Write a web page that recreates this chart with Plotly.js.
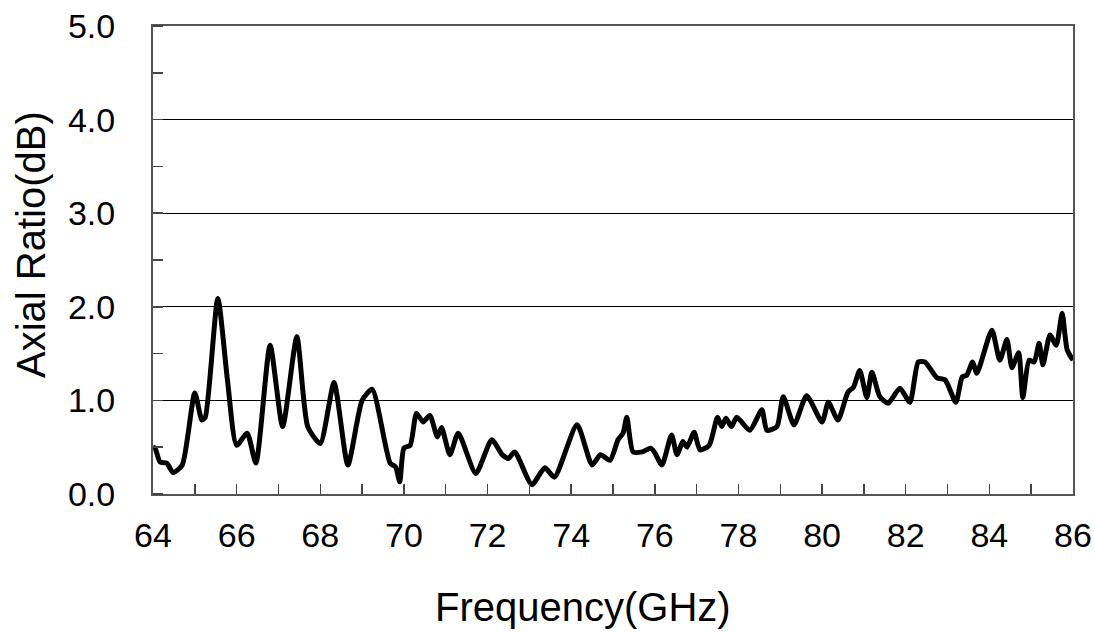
<!DOCTYPE html>
<html>
<head>
<meta charset="utf-8">
<script src="https://cdn.plot.ly/plotly-3.0.1.min.js"></script>
<style>html,body{margin:0;padding:0;background:#fff;}#chart{width:1094px;height:632px;}</style>
</head>
<body>
<div id="chart"></div>
<script>
const frequencyGHz = [64.0,64.05,64.17,64.33,64.48,64.7,65.0,65.17,65.25,65.55,65.78,66.0,66.25,66.46,66.8,67.1,67.44,67.7,68.0,68.33,68.66,69.0,69.24,69.67,69.8,69.9,70.0,70.15,70.3,70.46,70.62,70.8,70.9,71.1,71.3,71.72,72.1,72.35,72.5,72.65,73.06,73.37,73.6,74.14,74.5,74.7,74.93,75.12,75.24,75.33,75.48,75.7,75.9,76.0,76.17,76.4,76.53,76.67,76.77,76.94,77.08,77.3,77.5,77.6,77.7,77.83,77.96,78.27,78.56,78.68,78.92,79.07,79.33,79.63,80.0,80.15,80.38,80.62,80.75,80.9,81.07,81.19,81.38,81.58,81.86,82.1,82.3,82.46,82.75,82.94,83.2,83.35,83.46,83.6,83.7,84.06,84.25,84.42,84.54,84.7,84.8,84.95,85.07,85.19,85.28,85.45,85.6,85.74,85.86,86.0];
const axialRatioDB = [0.5,0.49,0.34,0.33,0.23,0.31,1.08,0.79,0.82,2.09,1.22,0.52,0.65,0.33,1.59,0.72,1.68,0.72,0.54,1.19,0.31,1.0,1.12,0.33,0.29,0.13,0.49,0.52,0.86,0.77,0.84,0.61,0.71,0.42,0.65,0.22,0.58,0.42,0.38,0.45,0.1,0.28,0.18,0.74,0.31,0.42,0.36,0.58,0.65,0.82,0.45,0.45,0.49,0.44,0.31,0.63,0.42,0.56,0.5,0.66,0.47,0.52,0.82,0.72,0.81,0.72,0.82,0.68,0.9,0.68,0.72,1.04,0.74,1.05,0.77,0.98,0.79,1.09,1.14,1.32,1.03,1.3,1.04,0.97,1.13,0.98,1.41,1.41,1.24,1.22,0.98,1.25,1.27,1.41,1.29,1.75,1.43,1.65,1.35,1.51,1.03,1.43,1.41,1.61,1.38,1.7,1.59,1.93,1.54,1.43];
const xTickValues = [64,66,68,70,72,74,76,78,80,82,84,86];
const yTickValues = [0,1,2,3,4,5];
const yTickLabels = ["0.0","1.0","2.0","3.0","4.0","5.0"];
const xTitle = "Frequency(GHz)";
const yTitle = "Axial Ratio(dB)";

const font = "Liberation Sans, Arial, sans-serif";
const trace = {
  x: frequencyGHz, y: axialRatioDB, type: "scatter", mode: "lines",
  line: {color: "#000", width: 5, shape: "spline", smoothing: 0.6},
  hoverinfo: "x+y"
};
const layout = {
  width: 1094, height: 632,
  margin: {l: 153, r: 21, t: 26, b: 138},
  paper_bgcolor: "#fff", plot_bgcolor: "#fff",
  showlegend: false,
  font: {family: font, color: "#000", size: 34},
  xaxis: {
    range: [64, 86], tickvals: xTickValues, ticks: "inside", ticklen: 10, tickcolor: "#444", tickwidth: 1.5,
    minor: {dtick: 1, ticks: "inside", ticklen: 10, tickcolor: "#444", tickwidth: 1.5, showgrid: false},
    showline: true, linecolor: "#555", linewidth: 2, mirror: true, showgrid: false, zeroline: false,
    tickfont: {family: font, size: 34, color: "#000"}, ticklabelstandoff: 10,
    automargin: false
  },
  yaxis: {
    range: [0, 5], tickvals: yTickValues, ticktext: yTickLabels, ticks: "",
    minor: {dtick: 0.5, ticks: "inside", ticklen: 10, tickcolor: "#444", tickwidth: 1.5, showgrid: false},
    showline: true, linecolor: "#555", linewidth: 2, mirror: true,
    showgrid: true, gridcolor: "#000", gridwidth: 1.2, zeroline: false,
    tickfont: {family: font, size: 34, color: "#000"}, ticklabelstandoff: 29,
    automargin: false
  },
  annotations: [
    {text: xTitle, xref: "paper", yref: "paper", x: -0.0326, y: -0.2415, xanchor: "center", yanchor: "middle",
     showarrow: false, font: {family: font, size: 40, color: "#000"}},
    {text: yTitle, xref: "paper", yref: "paper", x: -0.1326, y: 0.532, xanchor: "center", yanchor: "middle",
     textangle: -90, showarrow: false, font: {family: font, size: 40, color: "#000"}}
  ]
};
// x title: centred at pixel 583 -> paper x = (583-153)/920
layout.annotations[0].x = (583 - 153) / 920;
Plotly.newPlot("chart", [trace], layout, {displayModeBar: false, staticPlot: true});
</script>
</body>
</html>
